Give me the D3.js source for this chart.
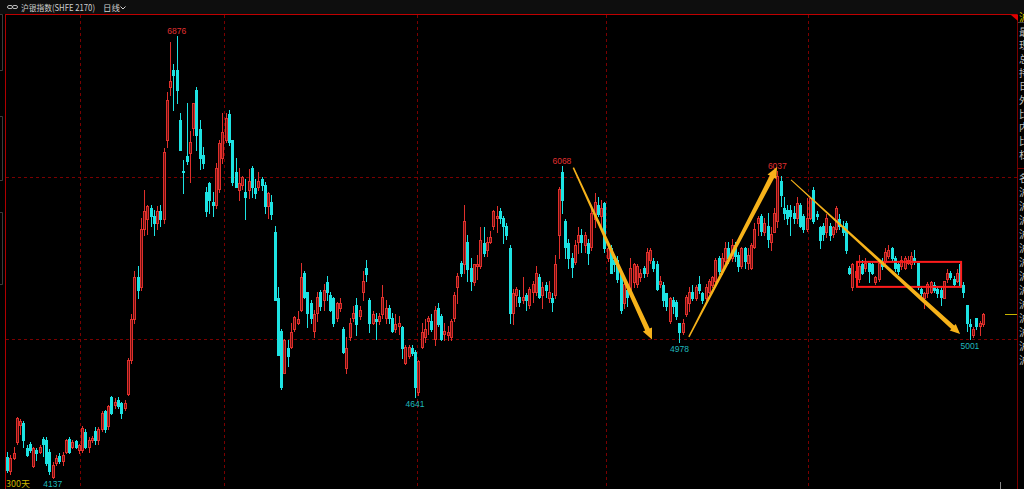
<!DOCTYPE html>
<html><head><meta charset="utf-8">
<script src="https://d3js.org/d3.v7.min.js"></script>
<style>html,body{margin:0;padding:0;background:#000;overflow:hidden}</style>
</head><body>
<svg id="c" width="1024" height="489"></svg>
<script>
const opens=[4267,4180,4262,4360,4465,4480,4320,4350,4210,4310,4300,4380,4370,4300,4145,4230,4275,4240,4300,4380,4330,4365,4310,4310,4420,4330,4370,4430,4370,4440,4550,4460,4640,4590,4620,4600,4570,4660,4870,5120,5380,5320,5680,5740,5810,5760,5720,5790,5740,6230,6560,6665,6665,6355,6040,6130,6150,6305,6540,6300,6140,5910,5965,5850,5830,5930,6120,6230,6390,6230,6030,5920,5955,5910,5920,6060,5935,5940,5990,5950,5820,5850,5660,5250,5050,4790,4940,4950,5060,5100,5180,5405,5290,5220,5050,5160,5290,5240,5350,5270,5250,5130,5190,5060,4820,5010,5130,5210,5140,5290,5440,5240,5100,5120,5110,5150,5130,5190,5130,5060,5080,5070,4850,4890,4940,4920,4670,4950,5010,5110,5110,5000,5190,5140,5030,5020,5010,5130,5320,5470,5460,5600,5440,5350,5450,5450,5590,5550,5600,5700,5750,5790,5750,5700,5560,5160,5270,5260,5240,5270,5210,5290,5290,5380,5270,5330,5250,5250,5270,5640,6030,5730,5590,5500,5475,5600,5640,5580,5590,5570,5740,5830,5760,5840,5500,5560,5490,5490,5410,5220,5300,5300,5350,5340,5380,5440,5410,5490,5480,5460,5340,5330,5280,5110,5240,5230,5100,5040,5150,5220,5290,5250,5340,5280,5250,5290,5330,5360,5500,5420,5480,5560,5500,5580,5520,5450,5560,5470,5440,5570,5720,5760,5660,5700,5600,5660,5730,5980,5810,5800,5800,5780,5750,5830,5760,5680,5750,5920,5770,5690,5700,5660,5700,5650,5680,5740,5700,5720,5440,5320,5380,5370,5460,5440,5470,5460,5350,5370,5480,5480,5510,5560,5500,5460,5450,5440,5470,5460,5500,5470,5310,5250,5280,5290,5330,5310,5300,5250,5370,5410,5370,5360,5460,5330,5210,5090,5020,5130,5080,5090];
const highs=[4298,4280,4330,4515,4500,4490,4340,4360,4330,4320,4340,4390,4390,4315,4235,4280,4290,4300,4380,4390,4370,4370,4350,4460,4440,4390,4395,4450,4450,4550,4560,4590,4645,4630,4640,4610,4620,4880,5150,5420,5450,5750,5920,5830,5830,5800,5820,5830,6180,6530,6840,6705,6876,6400,6110,6460,6290,6460,6560,6355,6190,5940,5970,5910,6090,6230,6400,6400,6420,6230,6120,6060,6010,5990,6050,6070,5990,6030,6000,5970,5910,5890,5700,5320,5060,5000,4990,5100,5140,5170,5470,5420,5290,5240,5180,5290,5300,5340,5390,5290,5260,5230,5250,5070,5010,5130,5200,5250,5200,5420,5490,5250,5170,5160,5160,5330,5240,5210,5160,5150,5140,5080,4960,4960,4960,4930,4870,5100,5120,5140,5150,5200,5220,5150,5100,5080,5120,5290,5410,5480,5830,5640,5500,5460,5520,5690,5690,5630,5670,5800,5820,5810,5760,5720,5580,5310,5320,5300,5380,5280,5320,5360,5450,5400,5350,5350,5360,5280,5520,5940,6068,5740,5620,5530,5610,5690,5680,5660,5620,5810,5900,5880,5860,5850,5570,5580,5520,5510,5420,5380,5350,5500,5470,5460,5430,5450,5560,5560,5500,5480,5390,5350,5280,5260,5260,5240,5100,5120,5270,5320,5330,5330,5390,5290,5340,5370,5390,5500,5510,5530,5600,5600,5620,5600,5540,5570,5570,5560,5590,5720,5760,5770,5750,5780,5690,5810,6037,6010,5880,5830,5830,5820,5880,5840,5770,5870,5880,5940,5790,5700,5720,5770,5720,5700,5820,5770,5730,5730,5450,5470,5480,5520,5490,5500,5470,5470,5390,5480,5500,5560,5580,5570,5510,5470,5510,5510,5510,5540,5550,5470,5320,5290,5350,5360,5350,5320,5320,5360,5430,5420,5390,5430,5470,5350,5210,5120,5070,5130,5110,5160];
const lows=[4174,4160,4255,4350,4410,4330,4270,4300,4205,4250,4290,4270,4215,4160,4137,4220,4230,4220,4290,4290,4320,4320,4290,4300,4320,4300,4360,4350,4350,4430,4420,4440,4530,4570,4570,4510,4560,4650,4850,5100,5250,5300,5640,5650,5700,5640,5680,5700,5720,6190,6510,6420,6460,6170,5900,6080,5970,6260,6170,6050,6060,5760,5780,5760,5810,5910,6090,6220,6200,5950,5940,5860,5930,5740,5870,5880,5870,5920,5920,5780,5750,5740,5240,4900,4690,4790,4830,4940,5050,5090,5170,5250,5070,5100,5010,5110,5180,5180,5240,5170,5080,5110,5170,4910,4790,4990,5110,5020,5120,5240,5360,5040,5090,5000,5090,5130,5100,5100,5040,5040,5030,4880,4840,4880,4900,4641,4650,4940,4980,5030,5050,4960,5080,4990,4990,4990,4990,5110,5220,5390,5410,5360,5300,5330,5370,5440,5510,5510,5590,5680,5660,5720,5590,5620,5100,5090,5200,5200,5220,5180,5190,5230,5270,5250,5190,5260,5230,5170,5250,5500,5780,5500,5440,5380,5460,5530,5540,5540,5460,5550,5690,5760,5690,5540,5480,5410,5420,5350,5160,5190,5200,5280,5320,5320,5360,5380,5390,5470,5420,5300,5320,5200,5180,5100,5160,5120,4978,5030,5140,5170,5240,5240,5280,5220,5240,5280,5320,5350,5400,5400,5460,5470,5480,5480,5420,5440,5440,5430,5430,5560,5640,5640,5640,5570,5550,5660,5690,5820,5740,5710,5640,5720,5720,5690,5660,5670,5740,5720,5740,5560,5610,5630,5610,5630,5660,5680,5640,5530,5400,5300,5370,5350,5400,5420,5350,5400,5340,5360,5430,5470,5500,5490,5420,5400,5430,5430,5460,5440,5460,5310,5260,5190,5260,5280,5290,5260,5210,5250,5350,5370,5330,5350,5320,5260,5050,5001,5010,5060,5020,5080];
const closes=[4186,4260,4292,4510,4490,4375,4280,4310,4320,4290,4330,4350,4230,4180,4215,4260,4240,4280,4370,4300,4360,4330,4340,4445,4330,4370,4385,4370,4440,4540,4440,4580,4540,4610,4580,4540,4600,4870,5120,5380,5300,5680,5790,5820,5760,5720,5790,5740,6160,6480,6600,6635,6540,6170,6030,6100,6220,6460,6260,6120,6090,5790,5860,5830,6060,6210,6280,6370,6220,5970,5940,5965,6000,5880,5980,5940,5900,5980,5950,5820,5900,5770,5240,4900,4700,4990,4890,5040,5135,5120,5380,5260,5160,5130,5150,5260,5200,5300,5290,5180,5100,5220,5220,4920,4940,5100,5160,5090,5180,5360,5400,5100,5150,5110,5140,5260,5190,5130,5050,5090,5100,4940,4950,4950,4910,4700,4860,5040,5060,5130,5060,5180,5090,5000,5050,5040,5110,5270,5390,5410,5730,5430,5360,5460,5460,5610,5530,5600,5630,5790,5760,5750,5700,5640,5160,5280,5310,5230,5260,5240,5310,5340,5410,5260,5320,5300,5290,5230,5460,5930,5860,5570,5500,5445,5580,5640,5600,5640,5530,5780,5850,5770,5810,5560,5560,5410,5460,5370,5180,5340,5260,5440,5460,5450,5410,5410,5540,5550,5440,5310,5360,5240,5200,5250,5200,5140,5040,5100,5260,5290,5250,5320,5300,5240,5320,5360,5380,5490,5420,5500,5560,5500,5580,5510,5450,5560,5480,5520,5580,5680,5750,5670,5720,5620,5650,5780,6010,5890,5780,5750,5760,5750,5840,5700,5680,5750,5870,5730,5760,5610,5650,5750,5640,5690,5810,5700,5660,5550,5410,5460,5420,5450,5410,5470,5420,5410,5380,5470,5450,5540,5550,5500,5440,5420,5490,5500,5490,5510,5490,5320,5280,5280,5340,5350,5300,5280,5260,5360,5410,5380,5340,5410,5330,5290,5100,5080,5060,5080,5100,5153];
const gridValues=[5000,6000];
const separatorBars=[23,67,126,184,246];
const highMarks=[52,170,236];
const lowMarks=[14,125,206,295];
const arrows=[
  {from:[174.0,6060],to:[198.1,4995],w1:1.5,w2:5,hl:11,hw:10},
  {from:[209.4,5011],to:[236.4,6064],w1:1.5,w2:5,hl:11,hw:10},
  {from:[240.7,5984],to:[292.5,5029],w1:1,w2:4.5,hl:10,hw:9}
];
const boxBars=[260.9,292.8];
const boxValues=[5476,5321];
const lastPrice=5153;
const titleText="沪银指数(SHFE 2170)";
const periodText="日线";
const countText="300天";
const panelTop="沪";
const panelGroup1=["最","现","总","持","日","外","比","内","比","杠"];
const panelGroup2=["名","沪","沪","沪","沪","沪","沪","沪","沪","沪","沪","沪","沪","沪"];

const svg=d3.select("#c");
const W=1024,H=489;
const N=closes.length;
const x=d3.scaleBand().domain(d3.range(N)).range([5.4,984.6]).padding(0);
const xPos=d3.scaleLinear().domain([0,N]).range([5.4,984.6]);
const y=d3.scaleLinear().domain([4000,7000]).range([500,16]);
const UP="#e0302c",UPFILL="#6a1010",DN="#1de3e3";
const cjk="'Noto Sans CJK SC','Noto Sans',sans-serif";

svg.append("rect").attr("width",W).attr("height",H).attr("fill","#000");
// title bar
svg.append("rect").attr("x",0).attr("y",0).attr("width",W).attr("height",14).attr("fill","#0e0e0e");
const ic=svg.append("g").attr("stroke","#bbb").attr("fill","none").attr("stroke-width",1);
ic.append("rect").attr("x",7.5).attr("y",5.5).attr("width",5).attr("height",3).attr("rx",1.5);
ic.append("rect").attr("x",12.5).attr("y",5.5).attr("width",5).attr("height",3).attr("rx",1.5);
svg.append("text").attr("x",21).attr("y",11).attr("fill","#d0d0d0").attr("font-size",8.5).attr("font-family",cjk)
  .attr("textLength",74).attr("lengthAdjust","spacingAndGlyphs").text(titleText);
svg.append("text").attr("x",103).attr("y",11).attr("fill","#d0d0d0").attr("font-size",8.5).attr("font-family",cjk).text(periodText);
svg.append("path").attr("d","M120.5,6.5 L123,9 L125.5,6.5").attr("stroke","#d0d0d0").attr("fill","none");

// left gray marks
const lg=svg.append("g").attr("stroke","#3c3c3c").attr("fill","none");
lg.append("path").attr("d","M0,14.5 H2.5 V70.5 H0");
lg.append("path").attr("d","M0,116.5 H2.5 V180.5 H0");
lg.append("path").attr("d","M0,212.5 H2.5 V284.5 H0");

// grid
const grid=svg.append("g").attr("stroke","#7a0000").attr("stroke-dasharray","3,3").attr("stroke-width",1);
grid.selectAll("line.h").data(gridValues).join("line").attr("class","h")
  .attr("x1",6).attr("x2",1017).attr("y1",d=>Math.round(y(d))+0.5).attr("y2",d=>Math.round(y(d))+0.5);
grid.selectAll("line.v").data(separatorBars).join("line").attr("class","v")
  .attr("x1",d=>Math.round(x(d))+0.5).attr("x2",d=>Math.round(x(d))+0.5).attr("y1",15).attr("y2",H);

// frame
svg.append("line").attr("x1",5).attr("x2",1018).attr("y1",14.5).attr("y2",14.5).attr("stroke","#c00000");
svg.append("line").attr("x1",5.5).attr("x2",5.5).attr("y1",14).attr("y2",H).attr("stroke","#b00000");
svg.append("line").attr("x1",1017.5).attr("x2",1017.5).attr("y1",14).attr("y2",H).attr("stroke","#7a0000");
svg.append("path").attr("d","M1011,15 L1018,15 L1018,21 Z").attr("fill","#e00000");

// candles
const data=d3.range(N).map(i=>({i,o:opens[i],h:highs[i],l:lows[i],c:closes[i]}));
const cg=svg.append("g").attr("shape-rendering","crispEdges");
const cx=d=>Math.round(x(d.i)+x.bandwidth()/2);
cg.selectAll("line.w").data(data).join("line").attr("class","w")
  .attr("x1",d=>cx(d)+0.5).attr("x2",d=>cx(d)+0.5)
  .attr("y1",d=>Math.round(y(d.h))).attr("y2",d=>Math.round(y(d.l))+1)
  .attr("stroke",d=>d.c>=d.o?UP:DN).attr("stroke-width",1);
cg.selectAll("rect.b").data(data).join("rect").attr("class","b")
  .attr("x",d=>cx(d)-1+(d.c>=d.o?0.5:0))
  .attr("y",d=>{const t=Math.round(y(Math.max(d.o,d.c)));return d.c>=d.o?t+0.5:t;})
  .attr("width",d=>d.c>=d.o?2:3)
  .attr("height",d=>{const t=Math.round(y(Math.max(d.o,d.c))),b=Math.round(y(Math.min(d.o,d.c)));const hh=Math.max(1,b-t);return d.c>=d.o?Math.max(0.5,hh-1+0.5):hh+1;})
  .attr("fill",d=>d.c>=d.o?UPFILL:DN)
  .attr("stroke",d=>d.c>=d.o?UP:"none").attr("stroke-width",1);

// high/low labels
const lab=svg.append("g").attr("font-family","'Liberation Sans',Arial,sans-serif").attr("font-size",8.5).attr("text-anchor","middle");
lab.selectAll("text.hi").data(highMarks).join("text").attr("class","hi")
  .attr("x",i=>x(i)+x.bandwidth()/2).attr("y",i=>y(highs[i])-2.5).attr("fill","#e03030").text(i=>highs[i]);
lab.selectAll("text.lo").data(lowMarks).join("text").attr("class","lo")
  .attr("x",i=>x(i)+x.bandwidth()/2).attr("y",i=>Math.min(y(lows[i])+10,487)).attr("fill","#1fb8bd").text(i=>lows[i]);

// box
svg.append("rect").attr("x",xPos(boxBars[0])).attr("y",y(boxValues[0]))
  .attr("width",xPos(boxBars[1])-xPos(boxBars[0])).attr("height",y(boxValues[1])-y(boxValues[0]))
  .attr("fill","none").attr("stroke","#ff1c1c").attr("stroke-width",2);

// arrows
function arrowPath(a){
  const x1=xPos(a.from[0]),y1=y(a.from[1]),x2=xPos(a.to[0]),y2=y(a.to[1]);
  const dx=x2-x1,dy=y2-y1,L=Math.hypot(dx,dy),ux=dx/L,uy=dy/L,nx=-uy,ny=ux;
  const sx=x2-ux*a.hl,sy=y2-uy*a.hl;
  const p=[[x1+nx*a.w1/2,y1+ny*a.w1/2],[sx+nx*a.w2/2,sy+ny*a.w2/2],[sx+nx*a.hw/2,sy+ny*a.hw/2],[x2,y2],
    [sx-nx*a.hw/2,sy-ny*a.hw/2],[sx-nx*a.w2/2,sy-ny*a.w2/2],[x1-nx*a.w1/2,y1-ny*a.w1/2]];
  return "M"+p.map(q=>q[0].toFixed(2)+","+q[1].toFixed(2)).join("L")+"Z";
}
svg.append("g").selectAll("path").data(arrows).join("path").attr("d",arrowPath).attr("fill","#f6b21a");

// last price marker
svg.append("line").attr("x1",1005).attr("x2",1017).attr("y1",Math.round(y(lastPrice))+0.5).attr("y2",Math.round(y(lastPrice))+0.5).attr("stroke","#c8b400");
svg.append("line").attr("x1",1000.5).attr("x2",1000.5).attr("y1",482).attr("y2",H).attr("stroke","#888");

// bottom text
svg.append("text").attr("x",6).attr("y",487).attr("fill","#c8b400").attr("font-size",9).attr("font-family",cjk).text(countText);

// right panel
svg.append("defs").append("clipPath").attr("id","rp").append("rect").attr("x",1018).attr("y",0).attr("width",6).attr("height",H);
const rp=svg.append("g").attr("clip-path","url(#rp)").attr("font-family",cjk).attr("font-size",10);
rp.append("text").attr("x",1019).attr("y",21).attr("fill","#d8c800").text(panelTop);
rp.append("line").attr("x1",1018).attr("x2",1024).attr("y1",22.5).attr("y2",22.5).attr("stroke","#444");
rp.selectAll("text.g1").data(panelGroup1).join("text").attr("class","g1")
  .attr("x",1019).attr("y",(d,i)=>35.5+i*13.7).attr("fill","#bdbdbd").text(d=>d);
rp.append("line").attr("x1",1018).attr("x2",1024).attr("y1",168.5).attr("y2",168.5).attr("stroke","#7a0000");
rp.selectAll("text.g2").data(panelGroup2).join("text").attr("class","g2")
  .attr("x",1019).attr("y",(d,i)=>182+i*14).attr("fill","#bdbdbd").text(d=>d);
</script>
</body></html>
